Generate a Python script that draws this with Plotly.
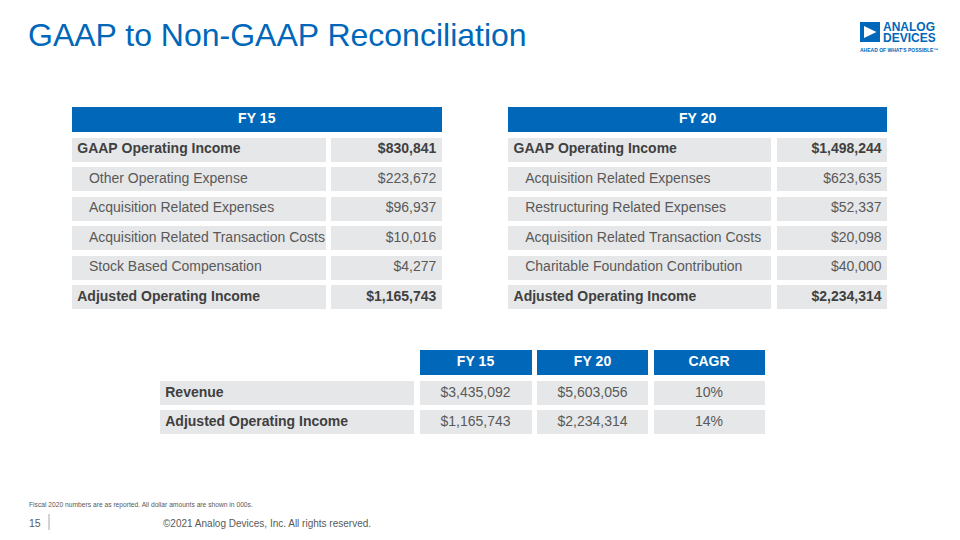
import plotly.graph_objects as go

# ---------------- data ----------------
fy15_labels = ["GAAP Operating Income", "Other Operating Expense", "Acquisition Related Expenses",
               "Acquisition Related Transaction Costs", "Stock Based Compensation",
               "Adjusted Operating Income"]
fy15_values = ["$830,841", "$223,672", "$96,937", "$10,016", "$4,277", "$1,165,743"]

fy20_labels = ["GAAP Operating Income", "Acquisition Related Expenses", "Restructuring Related Expenses",
               "Acquisition Related Transaction Costs", "Charitable Foundation Contribution",
               "Adjusted Operating Income"]
fy20_values = ["$1,498,244", "$623,635", "$52,337", "$20,098", "$40,000", "$2,234,314"]

summary_headers = ["", "FY 15", "FY 20", "CAGR"]
summary_metrics = ["Revenue", "Adjusted Operating Income"]
summary_fy15 = ["$3,435,092", "$1,165,743"]
summary_fy20 = ["$5,603,056", "$2,234,314"]
summary_cagr = ["10%", "14%"]

# ---------------- style ----------------
W, H = 960, 540
OFF = 8  # page body margin
BLUE = "#0067B9"
GRAY_CELL = "#E6E7E8"
TXT = "#595959"
TXT_B = "#404040"
FONT = "Liberation Sans, Arial, sans-serif"
LW = 5.5
NB = "\u00a0"
ROW_H = 29.5
HEAD_H = 30.5
DY = 1  # small downward nudge of the tables


def px(x):
    return (x - OFF) / W


def py(y):
    return 1 - (y - OFF) / H


def nowrap(s):
    return s.replace(" ", NB)


fig = go.Figure()


def single_row_table(vals, x0, x1, widths, top, height, fill, align, color, weight):
    """A table whose header is the visible row; a tiny blank body follows."""
    fig.add_trace(go.Table(
        domain=dict(x=[px(x0), px(x1)], y=[py(top + height + 10), py(top)]),
        columnwidth=widths,
        header=dict(values=vals, fill_color=fill, align=align,
                    line=dict(color="white", width=LW), height=height,
                    font=dict(family=FONT, size=14, color=color, weight=weight)),
        cells=dict(values=[[""] for _ in vals], height=2, line=dict(color="white", width=1),
                   fill_color="white", font=dict(size=1, color="white")),
    ))


def recon_block(title, labels, values, x0, x1, split, top):
    widths = [split - x0, x1 - split]
    # blue title band
    single_row_table([nowrap(title)], x0, x1, None, top, HEAD_H, BLUE, "center", "white", 700)
    # GAAP row (bold) + adjustments (regular)
    t2 = top + HEAD_H
    mid_labels = [NB * 3 + nowrap(s) for s in labels[1:-1]]
    fig.add_trace(go.Table(
        domain=dict(x=[px(x0), px(x1)], y=[py(t2 + ROW_H * 5 + 10), py(t2)]),
        columnwidth=widths,
        header=dict(values=[nowrap(labels[0]), values[0]], fill_color=GRAY_CELL, align=["left", "right"],
                    line=dict(color="white", width=LW), height=ROW_H,
                    font=dict(family=FONT, size=14, color=TXT_B, weight=700)),
        cells=dict(values=[mid_labels, values[1:-1]], fill_color=GRAY_CELL, align=["left", "right"],
                   line=dict(color="white", width=LW), height=ROW_H,
                   font=dict(family=FONT, size=14, color=TXT, weight=400)),
    ))
    # adjusted total row (bold)
    t3 = t2 + ROW_H * 5
    single_row_table([nowrap(labels[-1]), values[-1]], x0, x1, widths, t3, ROW_H, GRAY_CELL,
                     ["left", "right"], TXT_B, 700)


recon_block("FY 15", fy15_labels, fy15_values, 69.25, 444.75, 328.9, 103.25 + DY)
recon_block("FY 20", fy20_labels, fy20_values, 505.55, 890.45, 774.4, 103.25 + DY)

# summary table
top_s = 346.5 + DY
fig.add_trace(go.Table(
    domain=dict(x=[px(157.25), px(767.25)], y=[py(top_s + HEAD_H + 2 * ROW_H + 15), py(top_s)]),
    columnwidth=[259.5, 117.5, 116.5, 116.5],
    header=dict(values=[nowrap(h) for h in summary_headers],
                fill_color=["white", BLUE, BLUE, BLUE], align="center",
                line=dict(color="white", width=LW), height=HEAD_H,
                font=dict(family=FONT, size=14, color="white", weight=700)),
    cells=dict(values=[[nowrap(m) for m in summary_metrics], summary_fy15, summary_fy20, summary_cagr],
               fill_color=GRAY_CELL, align=["left", "center", "center", "center"],
               line=dict(color="white", width=LW), height=ROW_H,
               font=dict(family=FONT, size=14, color=[TXT_B, TXT, TXT, TXT],
                         weight=[700, 400, 400, 400])),
))

LOGO_FONT = "Liberation Sans Narrow, Liberation Sans, Arial"
annotations = [
    dict(text="GAAP to Non-GAAP Reconciliation", x=px(26), y=py(35), xanchor="left", yanchor="middle",
         font=dict(family=FONT, size=32, color=BLUE)),
    dict(text="<b>ANALOG</b>", x=px(881), y=py(26.5), xanchor="left", yanchor="middle", height=9,
         font=dict(family=LOGO_FONT, size=12, color=BLUE)),
    dict(text="<b>DEVICES</b>", x=px(881), y=py(37.8), xanchor="left", yanchor="middle", height=9,
         font=dict(family=LOGO_FONT, size=12, color=BLUE)),
    dict(text="<b>AHEAD OF WHAT'S POSSIBLE\u2122</b>", x=px(858), y=py(50), xanchor="left", yanchor="middle",
         font=dict(family=LOGO_FONT, size=5, color=BLUE)),
    dict(text="Fiscal 2020 numbers are as reported. All dollar amounts are shown in 000s.",
         x=px(27), y=py(505), xanchor="left", yanchor="middle",
         font=dict(family=FONT, size=6.7, color=TXT)),
    dict(text="15", x=px(27), y=py(523), xanchor="left", yanchor="middle",
         font=dict(family=FONT, size=10.5, color=TXT)),
    dict(text="\u00a92021 Analog Devices, Inc. All rights reserved.", x=px(161), y=py(523),
         xanchor="left", yanchor="middle", font=dict(family=FONT, size=10, color=TXT)),
]
for a in annotations:
    a.update(xref="paper", yref="paper", showarrow=False)

shapes = [
    dict(type="rect", x0=px(860), x1=px(880), y0=py(42), y1=py(22), fillcolor=BLUE, line=dict(width=0)),
    dict(type="path", path="M %f %f L %f %f L %f %f Z" % (px(864), py(26), px(876.5), py(32), px(864), py(38)),
         fillcolor="white", line=dict(width=0)),
    dict(type="line", x0=px(49), x1=px(49), y0=py(514), y1=py(530), line=dict(color="#A6A6A6", width=1)),
]
for s in shapes:
    s.update(xref="paper", yref="paper")

fig.update_layout(width=W, height=H, margin=dict(l=0, r=0, t=0, b=0),
                  paper_bgcolor="white", plot_bgcolor="white",
                  annotations=annotations, shapes=shapes, showlegend=False)

fig.write_html("out.html")
